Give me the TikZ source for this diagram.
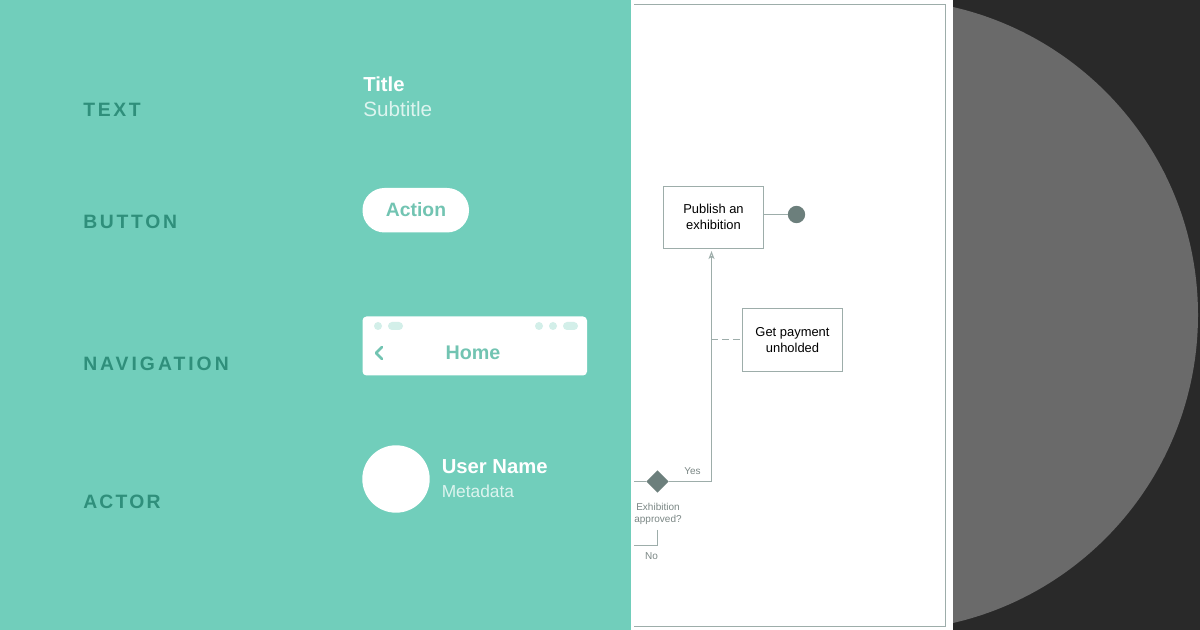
\documentclass[tikz,border=0pt]{standalone}
\usepackage{fontspec}
\setmainfont{Liberation Sans}
\newfontfamily\capsfont{Liberation Sans}[LetterSpace=14]
\newfontfamily\capswide{Liberation Sans}[LetterSpace=15.5]
\newfontfamily\capstight{Liberation Sans}[LetterSpace=11.5]
\usetikzlibrary{arrows.meta,shapes.geometric}
\definecolor{teal}{HTML}{71CEBB}
\definecolor{darkteal}{HTML}{2F8F7B}
\definecolor{lightteal}{HTML}{D3EFE9}
\definecolor{midteal}{HTML}{72C4B2}
\definecolor{subteal}{HTML}{DDF4EF}
\definecolor{linegrey}{HTML}{9DADAA}
\definecolor{darkgrey}{HTML}{6C7F7C}
\definecolor{labelgrey}{HTML}{7B8785}
\definecolor{panel}{HTML}{292929}
\definecolor{disc}{HTML}{6A6A6A}
\tikzset{
  x=0.75pt,y=-0.75pt,
  capslabel/.style={anchor=west,inner sep=0pt,text=darkteal,font=\capsfont\bfseries\fontsize{14.5}{15}\selectfont},
  uitext/.style={anchor=west,inner sep=0pt},
  flowbox/.style={draw=linegrey,line width=0.75pt,fill=white,align=center,inner sep=0pt,text=black},
  boxtext/.style={inner sep=0pt,align=center,text=black,font=\fontsize{9.7}{12}\selectfont},
  flowline/.style={draw=linegrey,line width=0.75pt},
  smalllabel/.style={inner sep=0pt,align=center,text=labelgrey,font=\fontsize{7.5}{9}\selectfont},
  navdot/.style={fill=lightteal,draw=none},
}
\begin{document}
\begin{tikzpicture}
\useasboundingbox (0,0) rectangle (1200,630);
% backgrounds
\fill[white] (0,0) rectangle (953,630);
\fill[teal] (0,0) rectangle (631,630);
\fill[panel] (953,0) rectangle (1200,630);
\begin{scope}
  \clip (953,0) rectangle (1200,630);
  \fill[disc] (882,315) circle [radius=316];
\end{scope}
% left labels
\node[capslabel] (ltext) at (83,109.5) {TEXT};
\node[capslabel] (lbutton) at (83,221.5) {BUTTON};
\node[capslabel,font=\capswide\bfseries\fontsize{14.5}{15}\selectfont] (lnav) at (83,364) {NAVIGATION};
\node[capslabel,font=\capstight\bfseries\fontsize{14.5}{15}\selectfont] (lactor) at (83,501.5) {ACTOR};
% text sample
\node[uitext,text=white,font=\bfseries\fontsize{15.2}{15}\selectfont] (title) at (363,84) {Title};
\node[uitext,text=subteal,font=\fontsize{15.5}{15}\selectfont] (subtitle) at (363,109.5) {Subtitle};
% button
\fill[white,rounded corners=16.5pt] (362.5,188) rectangle (469,232.5);
\node[text=midteal,inner sep=0pt,font=\bfseries\fontsize{14.5}{15}\selectfont] (action) at (416,210) {Action};
% navigation
\fill[white,rounded corners=3pt] (362.5,316.5) rectangle (587,375.5);
\fill[navdot] (378,326) circle [radius=4];
\fill[navdot,rounded corners=3pt] (388,322) rectangle (403,330);
\fill[navdot] (539,326) circle [radius=4];
\fill[navdot] (553,326) circle [radius=4];
\fill[navdot,rounded corners=3pt] (563,322) rectangle (578,330);
\draw[midteal,line width=2pt,line cap=round,line join=round] (382,347) -- (376,353) -- (382,359);
\node[text=midteal,inner sep=0pt,font=\bfseries\fontsize{14.8}{15}\selectfont] (home) at (473,352.5) {Home};
% actor
\fill[white] (396,479) circle [radius=33.7];
\node[uitext,text=white,font=\bfseries\fontsize{15.2}{15}\selectfont] (uname) at (441.5,466.5) {User Name};
\node[uitext,text=subteal,font=\fontsize{13}{13}\selectfont] (meta) at (441.5,491.5) {Metadata};
% flow frame
\draw[flowline] (634,4.5) -- (945.5,4.5) -- (945.5,626.5) -- (634,626.5);
% flow nodes
\node[flowbox,minimum width=75pt,minimum height=46.5pt] (publish) at (713.5,217.5) {};
\node[boxtext] (publisht) at (713.5,217) {Publish an\\exhibition};
\node[flowbox,minimum width=75pt,minimum height=47.25pt] (payment) at (792.5,340) {};
\node[boxtext] (paymentt) at (792.5,340.5) {Get payment\\unholded};
\node[circle,fill=darkgrey,draw=none,minimum size=13pt,inner sep=0pt] (endpt) at (796.5,214.5) {};
\node[diamond,fill=darkgrey,draw=none,minimum width=17pt,minimum height=17pt,inner sep=0pt] (gate) at (657.5,481.5) {};
\coordinate (gin) at (634,481.5);
\coordinate (corner) at (711.5,481.5);
\coordinate (tap) at (711.5,339.5);
\coordinate (into) at (711.5,251);
\coordinate (nodown) at (657.5,530);
\coordinate (nocorner) at (657.5,545.5);
\coordinate (noend) at (634,545.5);
\draw[flowline] (gin) -- (gate.west);
\draw[flowline,-{Stealth[open,length=6pt,width=4.5pt,inset=1.5pt]}] (gate.east) -- (corner) -- (into);
\draw[flowline] (publish.east |- endpt) -- (endpt.west);
\draw[flowline,dash pattern=on 5pt off 3pt] (tap) -- (payment.west |- tap);
\draw[flowline] (nodown) -- (nocorner) -- (noend);
\node[smalllabel] (yes) at (692.5,471) {Yes};
\node[smalllabel] (exh) at (658,514) {Exhibition\\approved?};
\node[smalllabel] (no) at (651.5,556.5) {No};
\end{tikzpicture}
\end{document}
